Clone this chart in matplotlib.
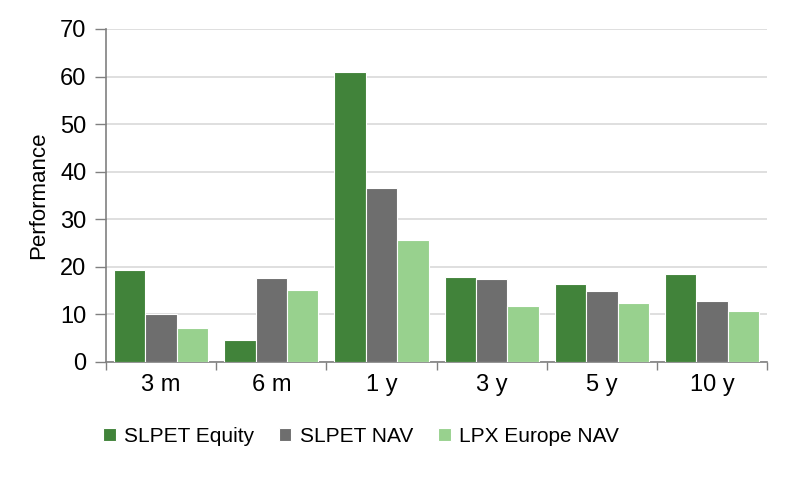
import numpy as np
import matplotlib
matplotlib.use("Agg")
import matplotlib.pyplot as plt
from matplotlib.ticker import FixedLocator

plt.rcParams['font.family'] = ['Liberation Sans Narrow', 'Liberation Sans', 'DejaVu Sans']

# data
periods = ["3 m", "6 m", "1 y", "3 y", "5 y", "10 y"]
slpet_equity = [19.3, 4.6, 61.0, 17.8, 16.3, 18.4]
slpet_nav = [10.1, 17.7, 36.6, 17.4, 14.9, 12.8]
lpx_europe_nav = [7.1, 15.2, 25.6, 11.8, 12.3, 10.7]

series = [
    ("SLPET Equity", slpet_equity, "#41833a"),
    ("SLPET NAV", slpet_nav, "#6e6e6e"),
    ("LPX Europe NAV", lpx_europe_nav, "#98d18e"),
]

fig = plt.figure(figsize=(8, 4.82), dpi=100)
ax = fig.add_axes([0.1325, 0.249, 0.8265, 0.691])

x = np.arange(len(periods))
w = 0.285
for i, (name, vals, col) in enumerate(series):
    ax.bar(x + (i - 1) * w, vals, width=w, color=col, edgecolor="white",
           linewidth=0.8, label=name, zorder=3)

ax.set_xlim(-0.5, len(periods) - 0.5)
ax.set_ylim(0, 70)
ax.set_yticks(range(0, 71, 10))
ax.yaxis.grid(True, color="#d9d9d9", linewidth=1.2, zorder=0)
ax.set_axisbelow(True)

ax.set_xticks(x)
ax.set_xticklabels(periods)
ax.xaxis.set_minor_locator(FixedLocator(np.arange(-0.5, len(periods), 1)))
ax.tick_params(axis="x", which="major", length=0, pad=9, labelsize=17)
ax.tick_params(axis="x", which="minor", length=6, width=1, color="#808080", direction="out")
ax.tick_params(axis="y", length=8, width=1, color="#808080", pad=6, labelsize=17)

for s in ["top", "right"]:
    ax.spines[s].set_visible(False)
for s in ["left", "bottom"]:
    ax.spines[s].set_color("#808080")
    ax.spines[s].set_linewidth(1.2)

ax.set_ylabel("Performance", fontsize=16, labelpad=8)

fig.legend(*ax.get_legend_handles_labels(), loc="center left",
           bbox_to_anchor=(103 / 800, 1 - 436 / 482), ncol=3, frameon=False,
           fontsize=15, handlelength=0.6, handleheight=0.6, handletextpad=0.4,
           columnspacing=1.2, borderpad=0, borderaxespad=0)

fig.savefig("out.png", dpi=100)
